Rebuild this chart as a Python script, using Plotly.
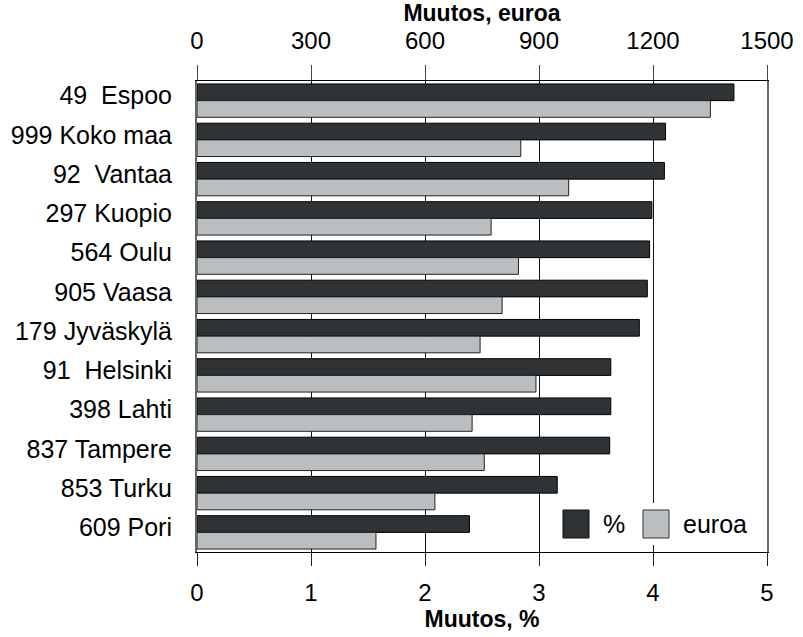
import plotly.graph_objects as go

categories = ["49\u00a0 Espoo", "999 Koko maa", "92\u00a0 Vantaa", "297 Kuopio", "564 Oulu",
              "905 Vaasa", "179 Jyväskylä", "91\u00a0 Helsinki", "398 Lahti", "837 Tampere",
              "853 Turku", "609 Pori"]
muutos_pct = [4.71, 4.11, 4.10, 3.99, 3.97, 3.95, 3.88, 3.63, 3.63, 3.62, 3.16, 2.39]
muutos_eur = [1351, 852, 978, 774, 846, 803, 745, 892, 724, 756, 626, 471]
pct_ticks = [0, 1, 2, 3, 4, 5]
eur_ticks = [0, 300, 600, 900, 1200, 1500]

DARK = "#2f3336"
LIGHT = "#babec0"
FONT = "Arial, Liberation Sans, sans-serif"

fig = go.Figure()
fig.add_trace(go.Bar(
    y=categories, x=muutos_pct, orientation="h", name="%",
    marker=dict(color=DARK, line=dict(color="black", width=1)),
    width=0.425, offset=-0.425, xaxis="x", yaxis="y", showlegend=False))
fig.add_trace(go.Bar(
    y=categories, x=muutos_eur, orientation="h", name="euroa",
    marker=dict(color=LIGHT, line=dict(color="#222", width=1)),
    width=0.425, offset=0.0, xaxis="x2", yaxis="y", showlegend=False))

# manual legend
W, H = 570, 471
def px(xp):
    return (xp - 197) / W
def py(yp):
    return (552 - yp) / H

shapes = [
    dict(type="rect", xref="paper", yref="paper", x0=px(553), x1=px(762), y0=py(545), y1=py(503),
         fillcolor="white", line=dict(width=0), layer="above"),
    dict(type="rect", xref="paper", yref="paper", x0=px(563), x1=px(589), y0=py(538), y1=py(510),
         fillcolor=DARK, line=dict(color="#111", width=1), layer="above"),
    dict(type="rect", xref="paper", yref="paper", x0=px(643), x1=px(669), y0=py(538), y1=py(510),
         fillcolor=LIGHT, line=dict(color="#333", width=1), layer="above"),
]
annotations = [
    dict(text="%", xref="paper", yref="paper", x=px(601), y=py(524), xanchor="left", yanchor="middle",
         showarrow=False, font=dict(size=25, color="black", family=FONT)),
    dict(text="euroa", xref="paper", yref="paper", x=px(681), y=py(524), xanchor="left", yanchor="middle",
         showarrow=False, font=dict(size=25, color="black", family=FONT)),
]

fig.update_layout(
    width=803, height=637,
    margin=dict(l=197, r=36, t=81, b=85, pad=0, autoexpand=False),
    paper_bgcolor="white", plot_bgcolor="white",
    font=dict(family=FONT, color="black", size=24),
    barmode="overlay",
    shapes=shapes, annotations=annotations,
    xaxis=dict(range=[0, 5], tickvals=pct_ticks, ticks="outside", ticklen=13, tickcolor="#222",
               tickwidth=1, showgrid=True, gridcolor="#111", gridwidth=1, zeroline=False,
               showline=True, linecolor="black", linewidth=1, automargin=False,
               tickfont=dict(size=24), ticklabelstandoff=6,
               title=dict(text="<b>Muutos, %</b>", font=dict(size=23), standoff=2)),
    xaxis2=dict(range=[0, 1500], tickvals=eur_ticks, overlaying="x", side="top",
                ticks="outside", ticklen=15, tickcolor="#444", tickwidth=1, automargin=False,
                showgrid=False, zeroline=False, showline=True, linecolor="black", linewidth=1,
                tickfont=dict(size=24), ticklabelstandoff=6,
                title=dict(text="<b>Muutos, euroa</b>", font=dict(size=23), standoff=4)),
    yaxis=dict(categoryorder="array", categoryarray=categories, autorange="reversed",
               ticks="", showgrid=False, zeroline=False, showline=True, mirror=True, automargin=False,
               linecolor="#666", linewidth=2, tickfont=dict(size=25), ticklabelstandoff=18,
               ticklabelshift=5),
)

fig.write_html("out.html", config={"displayModeBar": False},
               post_script="document.body.style.margin='0';document.body.style.padding='0';"
                           "document.body.style.overflow='hidden';")
